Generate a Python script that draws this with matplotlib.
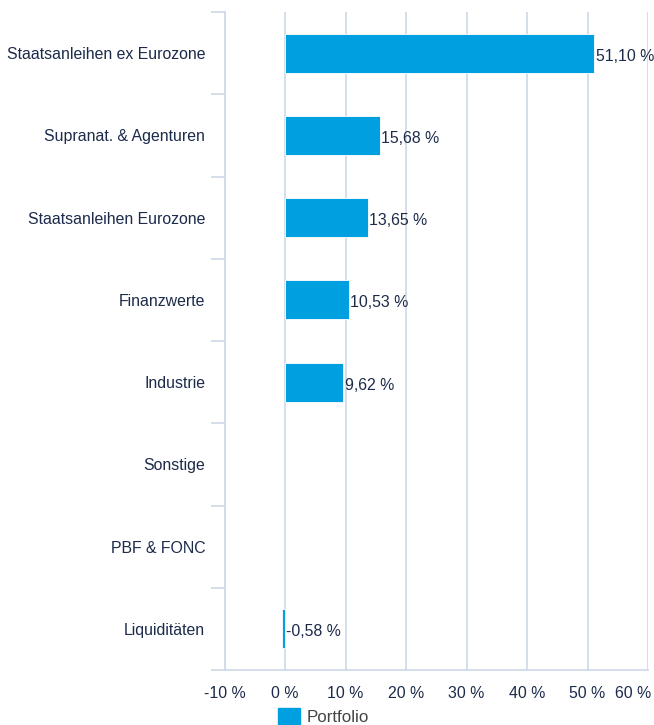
import numpy as np
import matplotlib
matplotlib.use("Agg")
import matplotlib.pyplot as plt
import matplotlib.transforms as mtrans
from matplotlib.patches import Patch

# ── DATA ───────────────────────────────────────────────────────
categories = [
    "Staatsanleihen ex Eurozone",
    "Supranat. & Agenturen",
    "Staatsanleihen Eurozone",
    "Finanzwerte",
    "Industrie",
    "Sonstige",
    "PBF & FONC",
    "Liquiditäten",
]
values = [51.10, 15.68, 13.65, 10.53, 9.62, np.nan, np.nan, -0.58]
x_ticks = [-10, 0, 10, 20, 30, 40, 50, 60]
series_name = "Portfolio"

BAR = "#009fe0"
GRID = "#cdd8e8"
TEXT = "#1c2b4a"
FS = 11.4

plt.rcParams["font.family"] = ["Liberation Sans", "DejaVu Sans"]

fig = plt.figure(figsize=(6.54, 7.25), dpi=100)
ax = fig.add_axes([224.6 / 654, 1 - 670 / 725, (648 - 224.6) / 654, (670 - 12) / 725])

y = np.arange(len(categories))
ax.barh(y, values, height=0.475, color=BAR, edgecolor="white", linewidth=0.6, zorder=3)

# value labels just right of the bar end (or of zero for negatives)
for yi, v in zip(y, values):
    if np.isnan(v):
        continue
    label = f"{v:.2f}".replace(".", ",") + " %"
    ax.annotate(label, (max(v, 0), yi), xytext=(1, -2.2), textcoords="offset points",
                ha="left", va="center", fontsize=FS, color=TEXT, zorder=4)

ax.set_xlim(-10, 60)
ax.set_ylim(len(categories) - 0.5, -0.5)

ax.set_xticks(x_ticks)
ax.set_xticklabels([f"{t} %" for t in x_ticks])
ax.tick_params(axis="x", length=0, pad=11.5, labelsize=FS, labelcolor=TEXT)
last = ax.get_xticklabels()[-1]
last.set_horizontalalignment("right")
last.set_transform(last.get_transform() + mtrans.ScaledTranslation(3 / 100, 0, fig.dpi_scale_trans))

ax.set_yticks(y)
ax.set_yticklabels(categories)
ax.set_yticks(np.arange(len(categories) + 1) - 0.5, minor=True)
ax.tick_params(axis="y", which="major", length=0, pad=14, labelsize=FS, labelcolor=TEXT)
ax.tick_params(axis="y", which="minor", length=10, width=1.2, color=GRID)

ax.grid(axis="x", color=GRID, linewidth=1.2, zorder=0)
for s in ["top", "right"]:
    ax.spines[s].set_visible(False)
for s in ["left", "bottom"]:
    ax.spines[s].set_color(GRID)
    ax.spines[s].set_linewidth(1.2)

fig.legend(handles=[Patch(color=BAR, label=series_name)], loc="center left",
           bbox_to_anchor=(263 / 654, 1 - 716.5 / 725), frameon=False,
           fontsize=12.2, handlelength=1.3, handleheight=1.2, handletextpad=0.35,
           labelcolor="#444444")

fig.savefig("out.png", dpi=100)
